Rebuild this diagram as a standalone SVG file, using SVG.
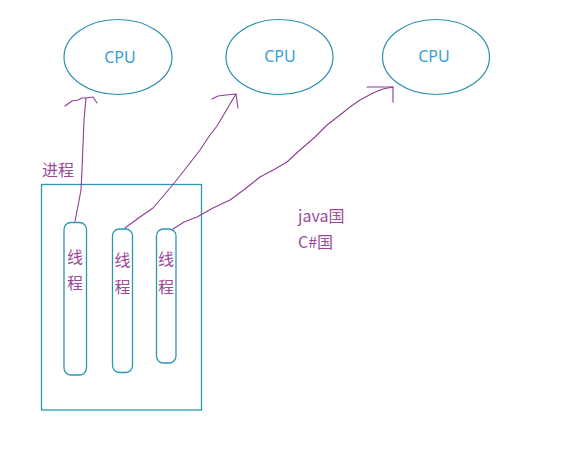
<svg xmlns="http://www.w3.org/2000/svg" width="568" height="451" viewBox="0 0 568 451">
<style>
.cpu{fill:none;stroke:#2a8fb0;stroke-width:1.2}
.box{fill:none;stroke:#2a98b0;stroke-width:1.3}
.cpuT{font-family:"Noto Sans","Noto Sans CJK SC",sans-serif;font-size:16px;fill:#3a9ed0;text-anchor:middle}
.pT{font-family:"Noto Sans CJK SC","Noto Sans",sans-serif;font-size:16px;fill:#9a4a9a}
.tT{font-family:"Noto Sans CJK SC",sans-serif;font-size:16px;fill:#9a4a9a;text-anchor:middle}
.ln{fill:none;stroke:#8e3e92;stroke-width:1.1;stroke-linejoin:round;stroke-linecap:round}
</style>
<rect width="568" height="451" fill="#ffffff"/>
<g id="cpu1"><ellipse class="cpu" cx="118" cy="57" rx="54" ry="37.5"/><text class="cpuT" x="120" y="63">CPU</text></g>
<g id="cpu2"><ellipse class="cpu" cx="279.5" cy="57" rx="53.5" ry="37.5"/><text class="cpuT" x="280" y="62">CPU</text></g>
<g id="cpu3"><ellipse class="cpu" cx="436" cy="57" rx="53.5" ry="37.5"/><text class="cpuT" x="434" y="62">CPU</text></g>
<g id="process"><rect class="box" x="41.5" y="184.5" width="160" height="225.5"/><text class="pT" x="42" y="176">进程</text></g>
<g id="thread1"><rect class="box" x="64" y="222.5" width="22.5" height="152.5" rx="7"/><text class="tT" x="75" y="263">线</text><text class="tT" x="75" y="289">程</text></g>
<g id="thread2"><rect class="box" x="112.5" y="229" width="20" height="143.5" rx="7"/><text class="tT" x="122.5" y="266">线</text><text class="tT" x="122.5" y="293">程</text></g>
<g id="thread3"><rect class="box" x="156.5" y="229" width="19.5" height="134" rx="7"/><text class="tT" x="166" y="265">线</text><text class="tT" x="166" y="293">程</text></g>
<g id="labels"><text class="pT" x="298" y="222">java国</text><text class="pT" x="298" y="248">C#国</text></g>
<g id="connectors">
<path class="ln" d="M75,221 L78,206 L81,190 L82,170 L83,145 L84,120 L86,98"/>
<path class="ln" d="M65,106 L72,101 L78,100 L82,98 L86,98 L93,97 M93,97 L97,103"/>
<path class="ln" d="M125,228 L140,217 L153,208 L165,194 L175,182 L190,163 L200,150 L210,135 L217,126 L223,116 L230,104 L236,94"/>
<path class="ln" d="M212,99 L218,96 L226,95 L236,94 L238,108"/>
<path class="ln" d="M173,229 L184,222 L197,217 L213,208 L230,200 L245,189 L260,177 L275,169 L287,162 L300,150 L315,137 L327,125 L340,115 L350,107 L360,100 L373,93 L383,89 L393,87"/>
<path class="ln" d="M367,87 L393,87 L393,102"/>
</g>
</svg>
